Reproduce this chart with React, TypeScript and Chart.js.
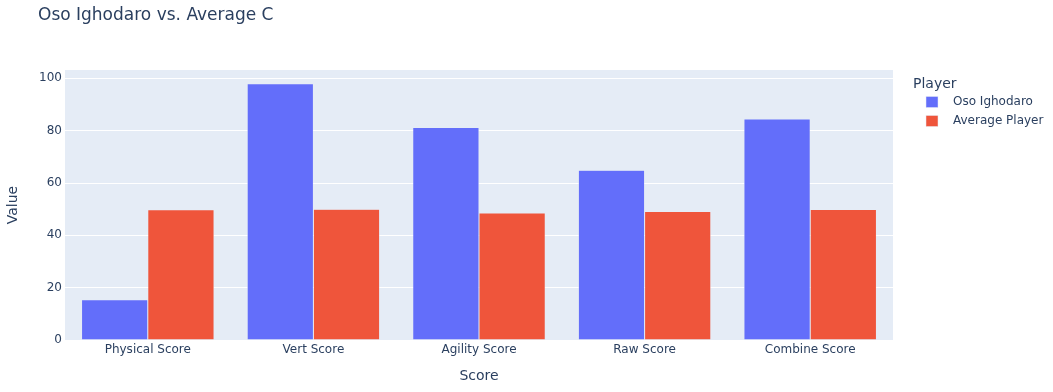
import React, { useEffect, useRef } from "react";
import { Chart, registerables } from "chart.js";

Chart.register(...registerables);

const categories = ["Physical Score", "Vert Score", "Agility Score", "Raw Score", "Combine Score"];
const osoValues = [15.4, 97.9, 81.2, 64.9, 84.5];
const averageValues = [49.8, 50.0, 48.5, 49.1, 49.9];
const yTickValues = [0, 20, 40, 60, 80, 100];
const seriesNames = ["Oso Ighodaro", "Average Player"];
const seriesColors = ["#636EFA", "#EF553B"];
const titleText = "Oso Ighodaro vs. Average C";
const xTitle = "Score";
const yTitle = "Value";
const legendTitle = "Player";

const W = 1053;
const H = 392;
const FONT = '"DejaVu Sans", verdana, sans-serif';
const TEXT = "#2a3f5f";

export default function App() {
  const ref = useRef<HTMLCanvasElement | null>(null);

  useEffect(() => {
    document.body.style.margin = "0";
    const canvas = ref.current!;
    const overlay = {
      id: "overlay",
      beforeDraw(chart: any) {
        const { ctx, chartArea } = chart;
        ctx.save();
        ctx.fillStyle = "#E5ECF6";
        ctx.fillRect(chartArea.left, chartArea.top, chartArea.right - chartArea.left, chartArea.bottom - chartArea.top);
        ctx.restore();
      },
      afterDraw(chart: any) {
        const { ctx, chartArea } = chart;
        ctx.save();
        ctx.fillStyle = TEXT;
        ctx.textBaseline = "middle";
        ctx.font = `17px ${FONT}`;
        ctx.textAlign = "left";
        ctx.fillText(titleText, 38, 16);
        ctx.font = `14px ${FONT}`;
        ctx.textAlign = "center";
        ctx.fillText(xTitle, (chartArea.left + chartArea.right) / 2, 376);
        ctx.save();
        ctx.translate(13, (chartArea.top + chartArea.bottom) / 2);
        ctx.rotate(-Math.PI / 2);
        ctx.fillText(yTitle, 0, 0);
        ctx.restore();
        ctx.textAlign = "left";
        ctx.font = `14px ${FONT}`;
        ctx.fillText(legendTitle, 913, 84);
        ctx.font = `12px ${FONT}`;
        seriesNames.forEach((name, i) => {
          const cy = 102 + i * 19;
          ctx.fillStyle = seriesColors[i];
          ctx.fillRect(926, cy - 5.5, 12, 11);
          ctx.strokeStyle = "#E5ECF6";
          ctx.lineWidth = 0.5;
          ctx.strokeRect(926, cy - 5.5, 12, 11);
          ctx.fillStyle = TEXT;
          ctx.fillText(name, 953, cy);
        });
        ctx.restore();
      },
    };

    const chart = new Chart(canvas, {
      type: "bar",
      data: {
        labels: categories,
        datasets: [
          {
            label: seriesNames[0],
            data: osoValues,
            backgroundColor: seriesColors[0],
            borderColor: "#E5ECF6",
            borderWidth: 0.5,
            categoryPercentage: 0.8,
            barPercentage: 1.0,
          },
          {
            label: seriesNames[1],
            data: averageValues,
            backgroundColor: seriesColors[1],
            borderColor: "#E5ECF6",
            borderWidth: 0.5,
            categoryPercentage: 0.8,
            barPercentage: 1.0,
          },
        ],
      },
      options: {
        responsive: false,
        animation: false,
        devicePixelRatio: 1,
        layout: { padding: { left: 0, right: 160, top: 70, bottom: 0 } },
        plugins: {
          legend: { display: false },
          title: { display: false },
          tooltip: { enabled: false },
        },
        scales: {
          x: {
            grid: { display: false, drawTicks: false },
            border: { display: false },
            ticks: { color: TEXT, font: { family: FONT, size: 12 }, padding: 3, maxRotation: 0 },
            afterFit(scale: any) {
              scale.height = 52;
            },
          },
          y: {
            min: 0,
            max: 103.2,
            grid: { color: "#ffffff", lineWidth: 1, drawTicks: false },
            border: { display: false },
            ticks: {
              color: TEXT,
              font: { family: FONT, size: 12 },
              padding: 3,
            },
            afterBuildTicks(scale: any) {
              scale.ticks = yTickValues.map((v) => ({ value: v }));
            },
            afterFit(scale: any) {
              scale.width = 65;
            },
          },
        },
      },
      plugins: [overlay],
    });
    return () => chart.destroy();
  }, []);

  return (
    <div style={{ position: "absolute", left: 0, top: 0, width: W, height: H, background: "#fff" }}>
      <canvas ref={ref} width={W} height={H} style={{ width: W, height: H, display: "block" }} />
    </div>
  );
}
